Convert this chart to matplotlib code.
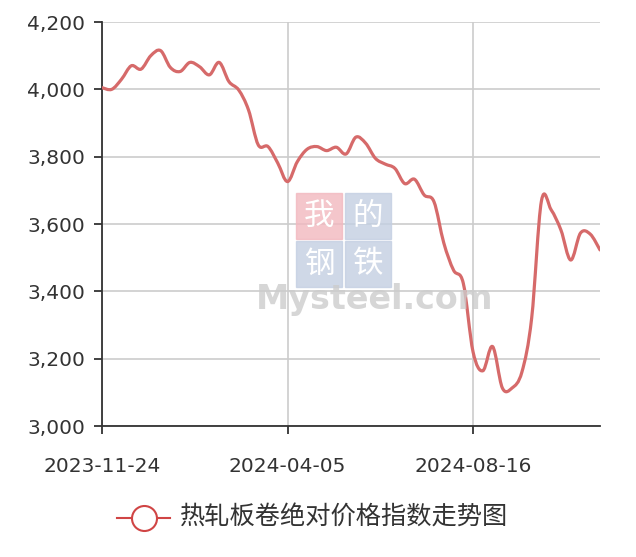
import numpy as np
import matplotlib
matplotlib.use("Agg")
import matplotlib.pyplot as plt
import matplotlib.dates as mdates
from matplotlib.path import Path
from matplotlib.patches import PathPatch, Rectangle
from matplotlib.lines import Line2D
from matplotlib.ticker import FuncFormatter

plt.rcParams['font.family'] = ['DejaVu Sans', 'Noto Sans CJK SC']

# weekly index values, first week 2023-11-24
start_date = "2023-11-24"
index_values = [4005, 4000, 4030, 4070, 4060, 4100, 4115, 4065, 4053, 4080,
                4067, 4043, 4080, 4023, 3998, 3939, 3835, 3830, 3781, 3726,
                3785, 3822, 3830, 3818, 3828, 3808, 3858, 3840, 3795, 3778,
                3765, 3720, 3733, 3686, 3666, 3544, 3463, 3424, 3220, 3164,
                3236, 3113, 3113, 3160, 3320, 3668, 3642, 3582, 3493, 3573,
                3570, 3523]
tick_dates = ["2023-11-24", "2024-04-05", "2024-08-16"]
y_ticks = [3000, 3200, 3400, 3600, 3800, 4000, 4200]
series_name = "热轧板卷绝对价格指数走势图"

line_color = "#d66a6a"
text_color = "#333333"

dates = np.datetime64(start_date) + np.arange(len(index_values)) * np.timedelta64(7, "D")
x = mdates.date2num(dates.astype("datetime64[s]").astype(object))
y = np.array(index_values, dtype=float)

fig = plt.figure(figsize=(6.36, 5.57), dpi=100)
ax = fig.add_axes([102 / 636, 1 - 426 / 557, 498 / 636, 404 / 557])

# smooth line through the weekly points (cubic bezier segments)
s = 0.17
verts = [(x[0], y[0])]
codes = [Path.MOVETO]
n = len(x)
for i in range(n - 1):
    p0 = np.array([x[max(i - 1, 0)], y[max(i - 1, 0)]])
    p1 = np.array([x[i], y[i]])
    p2 = np.array([x[i + 1], y[i + 1]])
    p3 = np.array([x[min(i + 2, n - 1)], y[min(i + 2, n - 1)]])
    c1 = p1 + (p2 - p0) * s
    c2 = p2 - (p3 - p1) * s
    verts += [tuple(c1), tuple(c2), tuple(p2)]
    codes += [Path.CURVE4, Path.CURVE4, Path.CURVE4]
ax.add_patch(PathPatch(Path(verts, codes), facecolor="none", edgecolor=line_color,
                       lw=2.3, zorder=5, capstyle="round", joinstyle="round"))

ax.set_xlim(x[0], x[-1])
ax.set_ylim(3000, 4200)
ax.set_yticks(y_ticks)
ax.yaxis.set_major_formatter(FuncFormatter(lambda v, p: f"{int(v):,}"))
tick_x = mdates.date2num(np.array(tick_dates, dtype="datetime64[s]").astype(object))
ax.set_xticks(tick_x)
ax.set_xticklabels(tick_dates)

ax.grid(True, color="#cccccc", lw=1.2)
ax.set_axisbelow(True)
for side in ["top", "right"]:
    ax.spines[side].set_visible(False)
for side in ["left", "bottom"]:
    ax.spines[side].set_color(text_color)
    ax.spines[side].set_linewidth(1.3)
ax.tick_params(axis="both", colors=text_color, labelsize=14.5, length=6, width=1.3)
ax.tick_params(axis="x", pad=16)
ax.tick_params(axis="y", pad=6)

# watermark
wm = [("我", 296, 193, "#f2b8bf"), ("的", 345, 193, "#c3cfe2"),
      ("钢", 296, 241, "#c3cfe2"), ("铁", 345, 241, "#c3cfe2")]
for ch, px, py, bg in wm:
    fig.patches.append(Rectangle((px / 636, 1 - (py + 46) / 557), 46 / 636, 46 / 557,
                                 transform=fig.transFigure, color=bg, alpha=0.8, zorder=1))
    fig.text((px + 23) / 636, 1 - (py + 23) / 557, ch, color="white", fontsize=22,
             family=["Noto Sans CJK SC"], ha="center", va="center", zorder=2)
fig.text(375 / 636, 1 - 299 / 557, "Mysteel.com", color="#cccccc", fontsize=24,
         fontweight="bold", ha="center", va="center", alpha=0.8, zorder=2)

# legend
lx0, lx1, ly = 117 / 636, 170 / 636, 1 - 518 / 557
fig.add_artist(Line2D([lx0, lx1], [ly, ly], transform=fig.transFigure,
                      color="#d04545", lw=1.5))
fig.add_artist(Line2D([(lx0 + lx1) / 2], [ly], transform=fig.transFigure,
                      marker="o", markersize=18, markerfacecolor="white",
                      markeredgecolor="#d04545", markeredgewidth=1.5))
fig.text(180 / 636, ly, series_name, fontsize=18.2, color=text_color,
         family=["Noto Sans CJK SC"], ha="left", va="center")

fig.savefig("out.png", dpi=100)
